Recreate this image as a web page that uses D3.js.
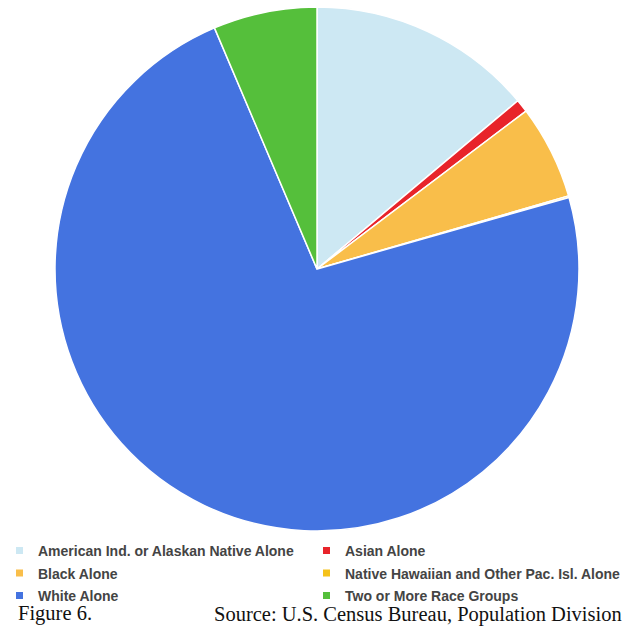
<!DOCTYPE html>
<html>
<head>
<meta charset="utf-8">
<script src="https://cdn.jsdelivr.net/npm/d3@7"></script>
<style>
  body { margin: 0; background: #fff; overflow: hidden; }
  svg { display: block; }
</style>
</head>
<body>
<svg id="chart" width="622" height="629"></svg>
<script>
// population share by race, percent
const groups = ["American Ind. or Alaskan Native Alone", "Asian Alone", "Black Alone",
  "Native Hawaiian and Other Pac. Isl. Alone", "White Alone", "Two or More Race Groups"];
const shares = [13.9, 0.8, 5.8, 0.1, 73.0, 6.4];
const colors = ["#cde8f3", "#e8242a", "#f9be4a", "#f5c21a", "#4473e0", "#55bf3b"];

const svg = d3.select("#chart");
const cx = 317, cy = 269, r = 262;

const data = groups.map((g, i) => ({ name: g, value: shares[i] }));
const pie = d3.pie().sort(null).value(d => d.value);
const arc = d3.arc().innerRadius(0).outerRadius(r);
const color = d3.scaleOrdinal().domain(groups).range(colors);

svg.append("g")
  .attr("transform", `translate(${cx},${cy})`)
  .selectAll("path")
  .data(pie(data))
  .join("path")
  .attr("d", arc)
  .attr("fill", d => color(d.data.name))
  .attr("stroke", "#fff")
  .attr("stroke-width", 1.5);

// legend, two columns
const legend = svg.append("g");
const item = legend.selectAll("g")
  .data(groups)
  .join("g")
  .attr("transform", (d, i) => `translate(${i % 2 ? 323 : 16},${551 + Math.floor(i / 2) * 22.5})`);

item.append("rect")
  .attr("x", 0).attr("y", -4)
  .attr("width", 7).attr("height", 7)
  .attr("fill", d => color(d));

item.append("text")
  .attr("x", 22).attr("y", 5)
  .attr("font-family", "Liberation Sans, Arial, sans-serif")
  .attr("font-weight", "bold")
  .attr("font-size", 14)
  .attr("fill", "#444")
  .text(d => d);

const serif = "Liberation Serif, Times New Roman, serif";
svg.append("text")
  .attr("x", 18).attr("y", 620)
  .attr("font-family", serif)
  .attr("font-size", 20.5)
  .attr("fill", "#111")
  .text("Figure 6.");

svg.append("text")
  .attr("x", 214).attr("y", 621)
  .attr("font-family", serif)
  .attr("font-size", 20.5)
  .attr("fill", "#111")
  .text("Source: U.S. Census Bureau, Population Division");
</script>
</body>
</html>
